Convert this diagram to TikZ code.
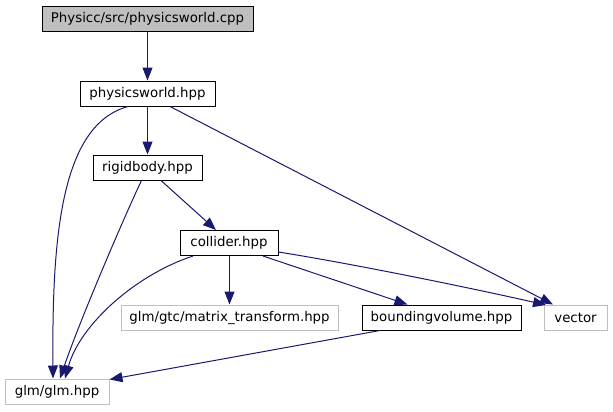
\documentclass[tikz,border=0pt]{standalone}
\usepackage{fontspec}
\setmainfont{DejaVu Sans}
\usetikzlibrary{arrows.meta,calc}
\definecolor{edgeblue}{HTML}{191970}
\definecolor{extgray}{HTML}{BFBFBF}
\tikzset{
  box/.style={draw=black, line width=0.75pt, inner sep=0pt, minimum height=18.75pt, font=\fontsize{10pt}{12pt}\selectfont, text=black},
  extbox/.style={box, draw=extgray},
  rootbox/.style={box, fill=extgray},
  edge/.style={draw=edgeblue, line width=0.75pt, -{Triangle[length=9.75pt,width=7.5pt]}, shorten >=0pt}
}
\begin{document}
\begin{tikzpicture}[x=0.75pt,y=-0.75pt]
\useasboundingbox (0,0) rectangle (613,411);
\node[rootbox, minimum width=158.25pt] (cpp) at (147.5,18.5) {Physicc/src/physicsworld.cpp};
\node[box, minimum width=101.25pt] (pw) at (147.5,93.5) {physicsworld.hpp};
\node[box, minimum width=81.75pt] (rb) at (147.5,167.5) {rigidbody.hpp};
\node[box, minimum width=73.5pt] (col) at (229,243) {collider.hpp};
\node[extbox, minimum width=162.75pt] (mt) at (229.5,317.5) {glm/gtc/matrix\_transform.hpp};
\node[box, minimum width=119.25pt] (bv) at (441.5,317.5) {boundingvolume.hpp};
\node[extbox, minimum width=47.25pt] (vec) at (575.5,317.5) {vector};
\node[extbox, minimum width=78pt] (glm) at (57,391.5) {glm/glm.hpp};

\draw[edge] (cpp.south) -- (pw.north);
\draw[edge] (pw.south) -- (rb.north);
\draw[edge] ($(pw.south)+(-19.5,0)$) .. controls (60,125) and (52,240) .. ($(glm.north)+(-4,0)$);
\draw[edge] ($(pw.south)+(22.5,0)$) -- ($(vec.north)+(-22.5,0)$);
\draw[edge] ($(rb.south)+(-6,0)$) .. controls (125,215) and (80,320) .. ($(glm.north)+(3,0)$);
\draw[edge] ($(rb.south)+(13.5,0)$) -- ($(col.north)+(-13,0)$);
\draw[edge] ($(col.south)+(-36,0)$) .. controls (135,275) and (80,325) .. ($(glm.north)+(8,0)$);
\draw[edge] ($(col.south)+(0.5,0)$) -- (mt.north);
\draw[edge] ($(col.south)+(34,0)$) -- ($(bv.north)+(-34,0)$);
\draw[edge] ($(col.east)+(0,9)$) .. controls (360,265) and (480,290) .. ($(vec.north)+(-29.5,0.5)$);
\draw[edge] ($(bv.south)+(-61.5,0)$) -- ($(glm.north east)+(0,1)$);
\end{tikzpicture}
\end{document}
